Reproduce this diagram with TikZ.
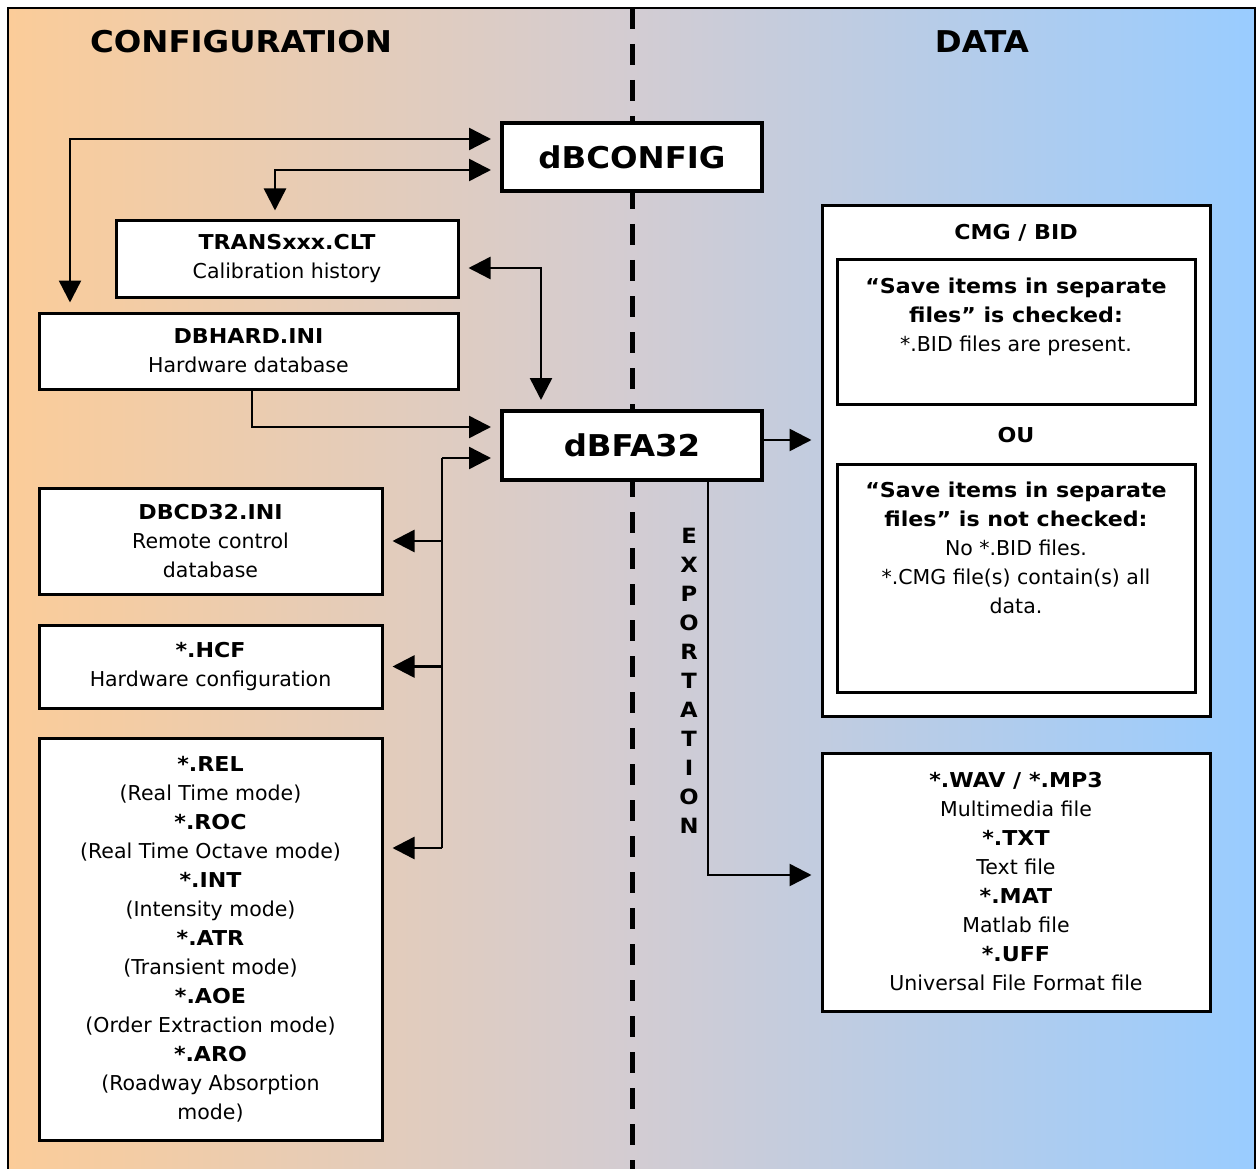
\documentclass[tikz,border=0pt]{standalone}
\usepackage{fontspec}
\setmainfont{DejaVu Sans}[BoldFeatures={FakeStretch=1.08}]
\usetikzlibrary{arrows.meta}
\usetikzlibrary{calc}
\usetikzlibrary{positioning}

\definecolor{cfgpeach}{RGB}{251,204,153}
\definecolor{midgrey}{RGB}{211,204,210}
\definecolor{datablue}{RGB}{153,204,255}

\newcommand{\bodyfont}{\fontsize{20.5}{29}\selectfont}

\begin{document}
\begin{tikzpicture}[x=1pt, y=-1pt,
        title_style/.style={inner sep=0pt, font=\fontsize{30}{36}\selectfont\bfseries},
        prog_style/.style={draw=black, line width=4pt, fill=white, inner sep=0pt, minimum width=260pt, font=\fontsize{30}{34}\selectfont\bfseries},
        file_style/.style={draw=black, line width=3pt, fill=white, align=center, inner sep=0pt, font=\bodyfont},
        text_style/.style={align=center, inner sep=0pt, font=\bodyfont},
        edge_style/.style={draw=black, line width=2.5pt, -{Triangle[length=22pt,width=22pt]}, shorten >=9pt},
        both_edge_style/.style={draw=black, line width=2.5pt, {Triangle[length=22pt,width=22pt]}-{Triangle[length=22pt,width=22pt]}, shorten >=9pt, shorten <=9pt},
        line_style/.style={draw=black, line width=2.5pt}]

        \useasboundingbox (0,0) rectangle (1256,1169);
        \clip (0,0) rectangle (1256,1169);

        % background and separator
        \shade[left color=cfgpeach, right color=datablue, middle color=midgrey] (8,8) rectangle (1255,1180);
        \draw[line width=2.5pt] (8,1180) -- (8,8) -- (1255,8) -- (1255,1180);
        \draw[line width=5pt, dash pattern=on 21pt off 15pt] (632,8) -- (632,1169);

        \node [title_style](cfgtitle) at (241,42) {CONFIGURATION};
        \node [title_style](datatitle) at (982,42) {DATA};

        \node [prog_style, minimum height=68pt](dbconfig) at (632,157) {dBCONFIG};
        \node [prog_style, minimum height=69pt](dbfa) at (632,445.5) {dBFA32};

        \node [file_style, minimum width=342pt, minimum height=76pt](trans) at (287,259) {\textbf{TRANSxxx.CLT}\\Calibration history};
        \node [file_style, minimum width=419pt, minimum height=76pt](dbhard) at (248.5,351) {\textbf{DBHARD.INI}\\Hardware database};
        \node [file_style, minimum width=343pt, minimum height=106pt](dbcd) at (210.5,541) {\textbf{DBCD32.INI}\\Remote control\\database};
        \node [file_style, minimum width=343pt, minimum height=83pt](hcf) at (210.5,666.5) {\textbf{*.HCF}\\Hardware configuration};
        \node [file_style, minimum width=343pt, minimum height=402pt](modes) at (210.5,939) {\textbf{*.REL}\\(Real Time mode)\\\textbf{*.ROC}\\(Real Time Octave mode)\\\textbf{*.INT}\\(Intensity mode)\\\textbf{*.ATR}\\(Transient mode)\\\textbf{*.AOE}\\(Order Extraction mode)\\\textbf{*.ARO}\\(Roadway Absorption\\mode)};

        \node [file_style, minimum width=388pt, minimum height=510pt](cmg) at (1016,461) {};
        \node [text_style, font=\bodyfont\bfseries](cmgtitle) at (1016,233) {CMG / BID};
        \node [file_style, minimum width=358pt, minimum height=144pt](sepyes) at (1016,332) {};
        \node [text_style, below=19pt of sepyes.north](sepyestxt) {\textbf{“Save items in separate}\\\textbf{files” is checked:}\\{*}.BID files are present.};
        \node [text_style, font=\bodyfont\bfseries](ou) at (1016,435) {OU};
        \node [file_style, minimum width=358pt, minimum height=228pt](sepno) at (1016,578) {};
        \node [text_style, below=19pt of sepno.north](sepnotxt) {\textbf{“Save items in separate}\\\textbf{files” is not checked:}\\No *.BID files.\\{*}.CMG file(s) contain(s) all\\data.};

        \node [file_style, minimum width=388pt, minimum height=258pt](export) at (1016,882) {\textbf{*.WAV / *.MP3}\\Multimedia file\\\textbf{*.TXT}\\Text file\\\textbf{*.MAT}\\Matlab file\\\textbf{*.UFF}\\Universal File Format file};

        \node [text_style, font=\fontsize{21}{29}\selectfont\bfseries](exportlbl) at (689,681) {E\\X\\P\\O\\R\\T\\A\\T\\I\\O\\N};

        \coordinate (hwup) at (70,139);
        \coordinate (cltup) at (275,170);
        \coordinate (cltside) at (541,268);
        \coordinate (hwdown) at (252,427);
        \coordinate (bustop) at (442,458);
        \coordinate (busbot) at (442,848);
        \coordinate (cmgin) at (790,440);
        \coordinate (expdown) at (708,875);

        \draw [both_edge_style] (dbhard.north -| hwup) -- (hwup) -- (hwup -| dbconfig.west);
        \draw [both_edge_style] (trans.north -| cltup) -- (cltup) -- (cltup -| dbconfig.west);
        \draw [both_edge_style] (cltside -| trans.east) -- (cltside) -- (cltside |- dbfa.north);
        \draw [edge_style] (dbhard.south -| hwdown) -- (hwdown) -- (hwdown -| dbfa.west);
        \draw [edge_style] (bustop) -- (bustop -| dbfa.west);
        \draw [line_style] (bustop) -- (busbot);
        \draw [edge_style] (bustop |- dbcd.east) -- (dbcd.east);
        \draw [edge_style] (bustop |- hcf.east) -- (hcf.east);
        \draw [edge_style] (busbot) -- (busbot -| modes.east);
        \draw [edge_style] (cmgin -| dbfa.east) -- (cmgin -| cmg.west);
        \draw [edge_style] (dbfa.south -| expdown) -- (expdown) -- (expdown -| export.west);
\end{tikzpicture}
\end{document}
